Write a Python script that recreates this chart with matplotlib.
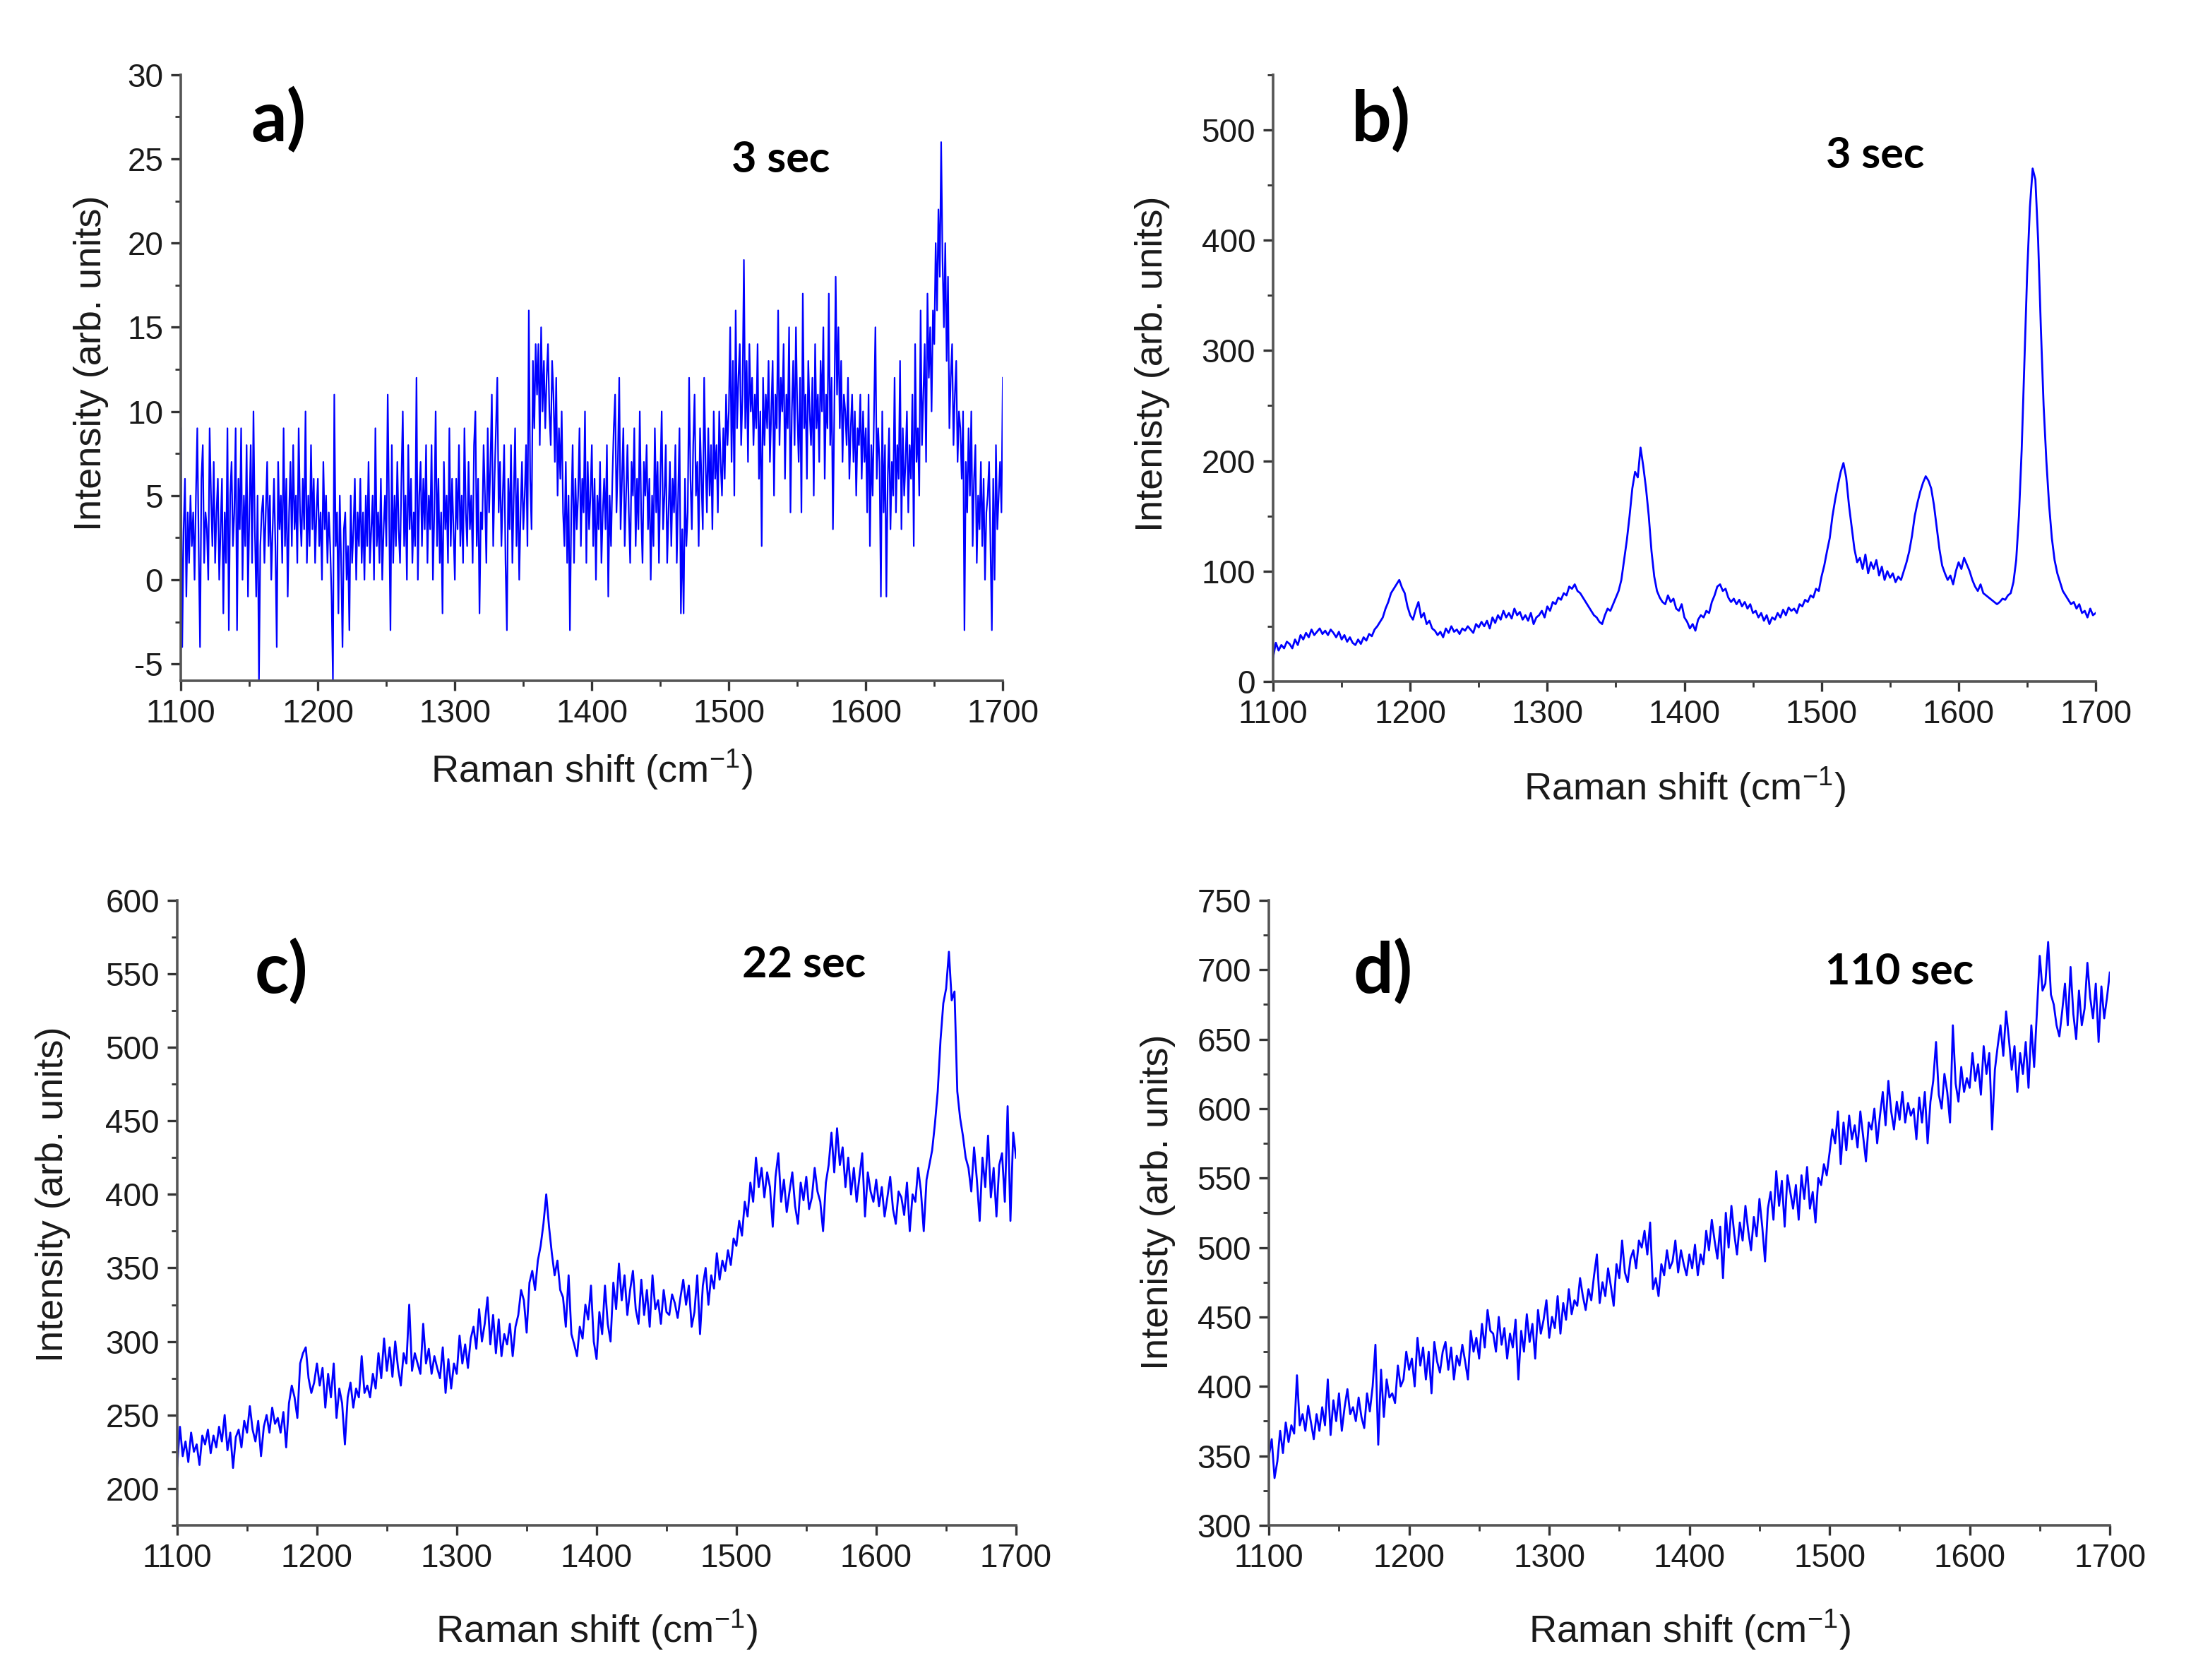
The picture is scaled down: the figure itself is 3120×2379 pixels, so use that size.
import matplotlib
matplotlib.use("Agg")
import matplotlib.pyplot as plt
import numpy as np
from matplotlib.ticker import MultipleLocator

plt.rcParams['font.family'] = ['Liberation Sans', 'DejaVu Sans']
plt.rcParams['mathtext.fontset'] = 'custom'
plt.rcParams['mathtext.rm'] = 'Liberation Sans'
plt.rcParams['axes.unicode_minus'] = False

# a) 3 sec, noisy spectrum (1 cm-1 step, 1100..1700)
int_a = [9, -4, 3, 6, -1, 4, 1, 5, 2, 4,    0, 5, 9, 2, -4, 6, 8, 1, 4, 3,
         0, 9, 5, 2, 7, 1, 4, 6, 0, 3,      6, -2, 4, 1, 9, -3, 5, 7, 2, 4,
         9, -3, 6, 3, 9, 0, 5, 2, 8, -1,    4, 8, 1, 10, 3, -1, 5, -6, 2, 4,
         5, 1, 4, 7, 2, 5, 0, 3, 6, 2,      -4, 7, 3, 5, 1, 9, 2, 6, -1, 4,
         7, 2, 8, 3, 5, 1, 9, 4, 2, 6,      3, 10, 1, 5, 2, 8, 3, 6, 1, 4,
         6, 2, 4, 0, 7, 3, 5, 1, 4, 2,      -1, -6, 11, 2, 4, -2, 5, 1, -4, 3,
         4, 0, 2, -3, 5, 1, 3, 6, 0, 4,     2, 6, 1, 4, 0, 5, 2, 7, 1, 3,
         5, 0, 9, 2, 4, 1, 6, 0, 3, 5,      2, 11, 4, -3, 8, 1, 5, 2, 7, 3,
         1, 6, 10, 2, 5, 0, 8, 3, 6, 1,     4, 2, 12, 0, 5, 7, 2, 6, 3, 8,
         1, 5, 3, 8, 0, 4, 10, 2, 6, 1,     4, -2, 7, 3, 5, 1, 9, 2, 6, 3,
         0, 6, 3, 8, 2, 5, 1, 9, 4, 2,      7, 3, 5, 1, 8, 10, 2, 6, -2, 4,
         3, 8, 5, 1, 9, 4, 7, 11, 2, 6,     9, 12, 4, 7, 2, 5, 8, 1, -3, 6,
         3, 8, 1, 5, 9, 2, 6, 0, 4, 7,      3, 5, 8, 2, 16, 6, 3, 13, 9, 14,
         11, 14, 8, 15, 10, 13, 9, 12, 14, 10, 8, 13, 11, 7, 12, 5, 9, 6, 10, 4,
         2, 7, 1, 5, -3, 4, 8, 1, 6, 3,     5, 9, 2, 6, 4, 10, 1, 7, 3, 5,
         8, 2, 6, 0, 5, 3, 7, 1, 4, 6,      3, 8, -1, 5, 2, 6, 9, 11, 4, 7,
         12, 3, 6, 9, 2, 5, 8, 4, 1, 7,     5, 9, 2, 6, 3, 10, 4, 1, 7, 5,
         8, 3, 6, 0, 5, 2, 9, 4, 7, 1,      6, 10, 3, 5, 8, 1, 4, 7, 2, 6,
         4, 8, 1, 5, 9, -2, 3, -2, 6, 2,    4, 12, 6, 3, 8, 11, 5, 7, 2, 9,
         6, 3, 12, 7, 4, 9, 5, 8, 3, 10,    6, 8, 4, 10, 7, 5, 9, 6, 11, 8,
         10, 15, 7, 13, 5, 16, 9, 12, 14, 8, 11, 19, 9, 13, 7, 14, 10, 12, 8, 11,
         9, 14, 6, 10, 2, 12, 8, 11, 9, 13, 7, 10, 13, 5, 11, 9, 16, 8, 12, 10,
         14, 6, 11, 9, 15, 4, 10, 13, 8, 15, 10, 7, 12, 4, 17, 9, 11, 6, 13, 10,
         8, 12, 5, 14, 9, 11, 7, 13, 10, 15, 6, 11, 9, 17, 8, 12, 3, 10, 18, 11,
         15, 9, 13, 7, 11, 10, 8, 12, 6, 9,  11, 7, 10, 5, 9, 8, 11, 6, 10, 7,
         9, 4, 11, 2, 8, 5, 10, 15, 6, 9,    7, -1, 10, 4, 8, -1, 6, 9, 3, 7,
         5, 12, 4, 8, 6, 13, 3, 9, 5, 7,     10, 4, 8, 6, 11, 2, 14, 7, 9, 5,
         16, 8, 11, 14, 7, 17, 12, 15, 10, 16, 14, 20, 16, 22, 18, 26, 19, 15, 20, 13,
         18, 9, 12, 14, 8, 11, 13, 7, 10, 9,  6, 10, -3, 7, 4, 9, 5, 10, 2, 6,
         8, 1, 5, 3, 7, 2, 6, 0, 4, 5,       7, 2, -3, 6, 0, 8, 3, 5, 7, 4,
         12]

# b) 3 sec, SERS spectrum (2 cm-1 step)
int_b = [22, 35, 28, 33, 30, 36, 34, 30, 38, 33,
         42, 38, 44, 40, 47, 42, 45, 48, 43, 46,
         42, 47, 44, 40, 45, 38, 42, 36, 40, 35,
         33, 38, 34, 40, 37, 43, 41, 47, 50, 54,
         58, 66, 72, 80, 84, 88, 92, 85, 80, 68,
         60, 56, 65, 72, 58, 62, 52, 55, 48, 46,
         42, 45, 40, 48, 44, 50, 45, 47, 43, 48,
         46, 50, 47, 44, 52, 49, 54, 50, 55, 48,
         58, 53, 60, 56, 64, 58, 62, 57, 66, 60,
         63, 56, 60, 55, 62, 52, 58, 60, 64, 58,
         68, 64, 72, 70, 76, 74, 80, 78, 86, 84,
         88, 82, 80, 76, 72, 68, 64, 60, 58, 54,
         52, 60, 66, 64, 70, 76, 82, 92, 110, 128,
         150, 175, 190, 185, 212, 195, 175, 150, 118, 95,
         82, 76, 72, 70, 78, 72, 75, 66, 64, 70,
         58, 54, 48, 52, 46, 56, 60, 58, 64, 62,
         72, 78, 86, 88, 82, 84, 76, 72, 75, 70,
         74, 68, 72, 66, 70, 62, 64, 58, 62, 55,
         60, 52, 58, 56, 62, 58, 65, 60, 67, 64,
         66, 62, 70, 68, 74, 72, 78, 76, 84, 82,
         95, 105, 118, 130, 150, 165, 178, 190, 198, 185,
         160, 140, 120, 108, 112, 102, 115, 98, 108, 102,
         110, 96, 104, 92, 100, 94, 98, 90, 95, 92,
         100, 108, 118, 132, 150, 162, 172, 180, 186, 182,
         175, 160, 140, 120, 105, 98, 92, 96, 88, 100,
         108, 102, 112, 106, 100, 92, 86, 82, 88, 80,
         78, 76, 74, 72, 70, 72, 75, 74, 78, 80,
         90, 110, 150, 210, 290, 370, 430, 465, 455, 400,
         320, 250, 200, 160, 130, 110, 98, 90, 82, 78,
         74, 70, 72, 66, 70, 62, 64, 58, 66, 60,
         62]

# c) 22 sec (2 cm-1 step)
int_c = [215, 242, 222, 232, 218, 238, 225, 230, 216, 236,
         230, 240, 224, 236, 228, 242, 232, 250, 226, 238,
         214, 235, 240, 228, 246, 238, 256, 240, 232, 246,
         222, 242, 250, 238, 255, 244, 248, 238, 252, 228,
         258, 270, 262, 248, 285, 292, 296, 275, 265, 272,
         285, 270, 282, 255, 278, 262, 285, 248, 268, 258,
         230, 262, 272, 255, 268, 262, 290, 265, 270, 262,
         278, 268, 292, 275, 302, 280, 296, 276, 300, 282,
         270, 292, 285, 325, 280, 292, 285, 278, 312, 285,
         295, 278, 290, 282, 275, 296, 265, 288, 268, 285,
         278, 304, 285, 298, 282, 302, 310, 295, 322, 300,
         312, 330, 298, 318, 292, 315, 290, 305, 298, 312,
         290, 310, 318, 335, 328, 306, 340, 348, 335, 355,
         365, 380, 400, 378, 360, 345, 355, 335, 330, 310,
         345, 305, 298, 290, 310, 302, 325, 315, 338, 300,
         288, 320, 305, 338, 312, 300, 340, 322, 353, 328,
         345, 318, 335, 348, 322, 312, 342, 318, 335, 310,
         345, 322, 328, 312, 335, 320, 318, 332, 326, 316,
         330, 342, 325, 338, 310, 320, 345, 305, 338, 350,
         325, 345, 336, 360, 342, 355, 348, 362, 352, 370,
         365, 382, 372, 395, 385, 408, 395, 425, 405, 418,
         398, 415, 405, 378, 412, 428, 395, 410, 388, 402,
         415, 392, 380, 408, 396, 412, 390, 398, 418, 402,
         395, 375, 408, 420, 442, 415, 445, 420, 432, 405,
         425, 400, 418, 395, 412, 428, 385, 415, 402, 395,
         410, 392, 405, 385, 398, 412, 390, 380, 402, 398,
         386, 408, 375, 400, 395, 418, 402, 375, 410, 420,
         430, 448, 470, 505, 530, 540, 565, 532, 538, 470,
         452, 440, 425, 418, 402, 432, 410, 382, 425, 405,
         440, 398, 418, 385, 420, 428, 395, 460, 382, 442,
         425]

# d) 110 sec (2 cm-1 step)
int_d = [350, 362, 334, 346, 368, 352, 374, 360, 372, 366,
         408, 372, 380, 368, 386, 374, 362, 380, 368, 385,
         372, 405, 365, 390, 375, 395, 368, 385, 398, 380,
         385, 375, 392, 378, 370, 395, 382, 400, 430, 358,
         412, 378, 405, 392, 395, 388, 415, 400, 405, 425,
         412, 420, 400, 435, 415, 428, 405, 425, 395, 432,
         418, 410, 425, 432, 412, 428, 405, 422, 415, 430,
         418, 405, 440, 425, 435, 420, 445, 428, 455, 440,
         438, 425, 450, 430, 442, 420, 438, 428, 448, 405,
         440, 425, 452, 432, 445, 420, 455, 438, 448, 462,
         435, 450, 442, 465, 438, 460, 448, 470, 452, 462,
         458, 478, 465, 455, 470, 462, 480, 495, 460, 475,
         465, 485, 472, 458, 488, 478, 505, 482, 475, 492,
         498, 485, 505, 500, 512, 495, 518, 470, 478, 465,
         488, 480, 498, 485, 490, 505, 482, 498, 488, 480,
         495, 485, 502, 480, 495, 488, 512, 498, 520, 505,
         492, 515, 478, 525, 500, 530, 510, 495, 518, 505,
         530, 512, 498, 522, 508, 535, 515, 490, 528, 540,
         520, 555, 530, 548, 515, 552, 540, 528, 545, 520,
         552, 535, 558, 528, 540, 518, 550, 545, 560, 552,
         568, 585, 575, 598, 560, 590, 570, 595, 578, 588,
         572, 598, 580, 562, 590, 585, 600, 575, 595, 612,
         588, 620, 598, 585, 605, 592, 612, 590, 604, 595,
         600, 578, 608, 590, 612, 575, 605, 620, 648, 610,
         600, 625, 612, 590, 660, 618, 605, 630, 612, 622,
         615, 640, 620, 632, 610, 645, 625, 640, 585, 628,
         645, 660, 638, 670, 650, 628, 645, 612, 640, 625,
         648, 615, 660, 630, 670, 710, 685, 690, 720, 682,
         675, 660, 652, 670, 690, 660, 702, 668, 650, 685,
         660, 672, 705, 680, 665, 690, 648, 688, 665, 680,
         698]

panels = [
    dict(y=int_a, tag="a)", note="3 sec", ylim=(-6, 30), major=5, minor=2.5, lw=0.8,
         ylabel="Intensity (arb. units)", rect=[0.0821, 0.5948, 0.3731, 0.3607],
         tagpos=(0.085, 0.925), notepos=(0.73, 0.86), ylab=(-0.109, 0.524), xlab=-0.147),
    dict(y=int_b, tag="b)", note="3 sec", ylim=(0, 550), major=100, minor=50, lw=1.0,
         ylabel="Intenisty (arb. units)", rect=[0.5779, 0.5944, 0.3734, 0.3611],
         tagpos=(0.095, 0.925), notepos=(0.732, 0.867), ylab=(-0.147, 0.524), xlab=-0.175),
    dict(y=int_c, tag="c)", note="22 sec", ylim=(175, 600), major=50, minor=25, lw=1.0,
         ylabel="Intensity (arb. units)", rect=[0.0804, 0.0921, 0.3808, 0.372],
         tagpos=(0.092, 0.886), notepos=(0.747, 0.897), ylab=(-0.148, 0.529), xlab=-0.168),
    dict(y=int_d, tag="d)", note="110 sec", ylim=(300, 750), major=50, minor=25, lw=1.0,
         ylabel="Intenisty (arb. units)", rect=[0.576, 0.0921, 0.3817, 0.372],
         tagpos=(0.10, 0.886), notepos=(0.75, 0.886), ylab=(-0.132, 0.517), xlab=-0.168),
]

fig = plt.figure(figsize=(15.6, 11.895), dpi=200)

for p in panels:
    ax = fig.add_axes(p["rect"])
    y = np.array(p["y"], dtype=float)
    x = np.linspace(1100, 1700, len(y))
    ax.plot(x, y, color="#0000ff", lw=p["lw"])
    ax.set_xlim(1100, 1700)
    ax.set_ylim(*p["ylim"])
    ax.xaxis.set_major_locator(MultipleLocator(100))
    ax.xaxis.set_minor_locator(MultipleLocator(50))
    ax.yaxis.set_major_locator(MultipleLocator(p["major"]))
    ax.yaxis.set_minor_locator(MultipleLocator(p["minor"]))
    for s in ["top", "right"]:
        ax.spines[s].set_visible(False)
    for s in ["left", "bottom"]:
        ax.spines[s].set_color("#555555")
        ax.spines[s].set_linewidth(1.3)
    ax.tick_params(which="major", direction="out", length=5, width=1.2,
                   color="#333333", labelsize=16.5, labelcolor="#1a1a1a", pad=4)
    ax.tick_params(which="minor", direction="out", length=3, width=1.0, color="#333333")
    ax.set_xlabel("Raman shift (cm$^{-1}$)", fontsize=19.5, color="#1a1a1a", va="center")
    ax.xaxis.set_label_coords(0.5, p["xlab"])
    ax.set_ylabel(p["ylabel"], fontsize=19.5, color="#1a1a1a", va="center")
    ax.yaxis.set_label_coords(*p["ylab"])
    ax.text(p["tagpos"][0], p["tagpos"][1], p["tag"], transform=ax.transAxes,
            fontsize=36, fontweight="bold", family=["Lato", "DejaVu Sans"],
            ha="left", va="center")
    ax.text(p["notepos"][0], p["notepos"][1], p["note"], transform=ax.transAxes,
            fontsize=22, fontweight="bold", family=["Lato", "DejaVu Sans"],
            ha="center", va="center")

fig.savefig("out.png", dpi=200)
